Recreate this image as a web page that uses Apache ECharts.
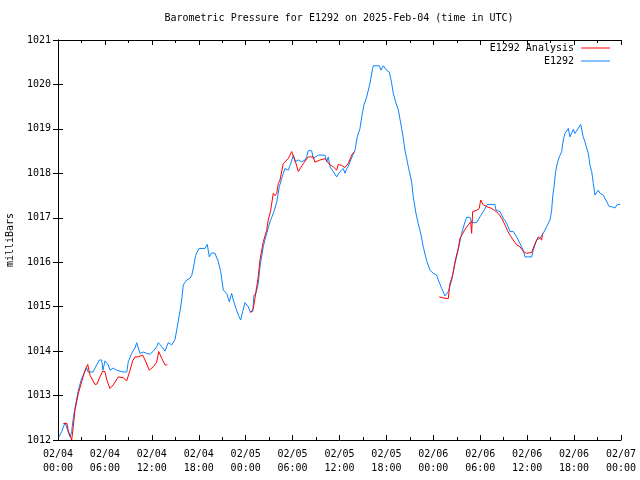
<!DOCTYPE html>
<html>
<head>
<meta charset="utf-8">
<script src="https://cdn.jsdelivr.net/npm/echarts@6/dist/echarts.min.js"></script>
<style>html,body{margin:0;padding:0;background:#fff}#c{width:640px;height:480px}</style>
</head>
<body>
<div id="c"></div>
<script>
// hours since 2025-02-04 00:00 UTC
const xTickHours = [0, 6, 12, 18, 24, 30, 36, 42, 48, 54, 60, 66, 72];
const yTicks = [1012, 1013, 1014, 1015, 1016, 1017, 1018, 1019, 1020, 1021];

const blueHours = [0.13,0.47,0.90,1.15,1.53,1.75,1.92,2.05,2.60,3.03,3.45,3.67,3.84,4.48,4.95,5.28,5.59,5.75,6.01,6.43,6.65,7.07,7.51,7.93,8.31,8.79,8.99,9.42,9.85,10.06,10.27,10.49,10.91,11.34,11.76,12.19,12.62,12.83,13.26,13.68,14.10,14.54,14.96,15.18,15.60,15.82,16.02,16.46,16.88,17.10,17.30,17.61,18.03,18.80,19.09,19.35,19.65,20.08,20.50,20.81,21.14,21.36,21.57,21.91,22.21,22.42,22.76,23.06,23.36,23.62,23.91,24.34,24.55,24.90,25.06,25.32,25.61,25.83,26.25,26.69,27.11,27.62,27.97,28.30,28.81,29.03,29.45,29.76,30.09,30.31,30.73,31.16,31.59,31.80,32.01,32.44,32.65,32.95,33.29,34.14,34.36,34.57,34.78,35.20,35.64,36.06,36.48,36.70,36.92,37.12,37.34,37.56,37.76,37.98,38.27,38.62,38.84,39.13,39.48,39.90,40.24,40.32,41.09,41.30,41.60,41.82,42.03,42.37,42.67,42.88,43.22,43.52,43.95,44.16,44.37,44.80,45.23,45.43,45.78,46.07,46.38,46.71,47.15,47.57,47.99,48.43,48.63,49.07,49.49,49.91,50.35,50.77,51.19,51.62,52.05,52.26,52.69,52.90,53.54,53.96,54.39,54.90,55.88,56.01,56.52,56.94,57.38,57.80,58.22,58.66,59.08,59.50,59.72,60.58,60.78,61.21,61.64,62.06,62.49,62.92,63.13,63.26,63.43,63.64,63.85,64.11,64.41,64.62,64.83,65.26,65.47,65.90,66.11,66.53,66.84,67.01,67.17,67.39,67.61,67.81,68.03,68.25,68.46,68.67,68.89,69.09,69.31,69.53,69.74,69.95,70.20,70.50,70.81,71.01,71.23,71.52,71.87];
const bluePressure = [1012.07,1012.19,1012.39,1012.39,1012.07,1012.19,1012.45,1012.6,1013.12,1013.39,1013.54,1013.62,1013.53,1013.53,1013.69,1013.8,1013.8,1013.57,1013.78,1013.69,1013.57,1013.62,1013.57,1013.55,1013.53,1013.53,1013.76,1013.95,1014.07,1014.19,1014.17,1013.95,1013.98,1013.95,1013.93,1014.0,1014.1,1014.19,1014.1,1014.0,1014.19,1014.14,1014.26,1014.47,1014.9,1015.15,1015.49,1015.6,1015.64,1015.7,1015.86,1016.16,1016.31,1016.31,1016.4,1016.12,1016.21,1016.2,1016.01,1015.79,1015.37,1015.4,1015.3,1015.11,1015.3,1015.15,1014.96,1014.81,1014.7,1014.89,1015.09,1015.0,1014.89,1014.89,1015.26,1015.3,1015.52,1015.9,1016.35,1016.65,1016.91,1017.14,1017.35,1017.7,1018.0,1018.11,1018.07,1018.22,1018.41,1018.26,1018.3,1018.26,1018.3,1018.37,1018.51,1018.51,1018.33,1018.37,1018.41,1018.41,1018.26,1018.37,1018.15,1018.04,1017.92,1018.04,1018.11,1018.0,1018.1,1018.15,1018.26,1018.3,1018.43,1018.52,1018.82,1019.01,1019.27,1019.54,1019.72,1020.03,1020.36,1020.42,1020.42,1020.32,1020.42,1020.38,1020.32,1020.28,1020.03,1019.8,1019.58,1019.43,1019.01,1018.79,1018.52,1018.15,1017.8,1017.47,1017.1,1016.87,1016.65,1016.35,1016.03,1015.82,1015.75,1015.71,1015.6,1015.41,1015.24,1015.34,1015.6,1015.97,1016.29,1016.65,1016.91,1017.01,1017.01,1016.89,1016.89,1017.02,1017.14,1017.3,1017.3,1017.17,1017.14,1016.99,1016.88,1016.69,1016.69,1016.57,1016.42,1016.27,1016.12,1016.12,1016.27,1016.5,1016.54,1016.65,1016.8,1016.95,1017.17,1017.47,1017.7,1018.04,1018.22,1018.37,1018.49,1018.75,1018.9,1019.01,1018.82,1018.99,1018.9,1019.01,1019.1,1019.08,1018.82,1018.71,1018.67,1018.45,1018.19,1018.04,1017.77,1017.51,1017.55,1017.62,1017.55,1017.58,1017.51,1017.44,1017.4,1017.25,1017.25,1017.29,1017.22,1017.3,1017.3];

// analysis series; null marks a gap in the record
const redHours = [0.68,1.15,1.32,1.62,1.75,1.96,2.17,2.60,3.03,3.45,3.80,4.09,4.73,4.99,5.37,5.72,6.01,6.23,6.65,7.07,7.71,8.35,8.79,8.99,9.21,9.55,9.85,10.27,10.83,11.13,11.68,12.19,12.62,12.88,13.26,13.68,13.98,
  19.0,
  24.62,24.77,24.97,25.19,25.41,25.61,25.83,26.25,26.69,26.89,27.20,27.53,27.75,27.97,28.17,28.39,28.81,29.45,29.88,30.31,30.73,30.95,31.37,32.01,32.65,32.86,33.50,34.14,34.78,35.20,35.64,35.85,36.28,36.70,37.12,37.56,37.89,
  43.0,
  48.76,49.49,49.91,50.13,50.47,50.77,51.19,51.41,51.62,52.05,52.47,52.78,52.90,53.03,53.54,53.87,54.05,54.39,54.82,55.46,55.88,56.30,56.74,57.16,57.46,57.80,58.22,58.66,59.08,59.50,59.94,60.58,61.00,61.42,61.64,61.85,61.98];
const redPressure = [1012.37,1012.37,1012.2,1012.07,1012.0,1012.3,1012.67,1013.05,1013.31,1013.57,1013.7,1013.46,1013.25,1013.26,1013.42,1013.55,1013.54,1013.36,1013.16,1013.24,1013.42,1013.4,1013.33,1013.34,1013.57,1013.78,1013.87,1013.87,1013.91,1013.8,1013.57,1013.65,1013.75,1013.99,1013.84,1013.69,1013.69,
  null,
  1014.86,1014.85,1014.95,1015.19,1015.45,1015.67,1016.05,1016.46,1016.72,1016.95,1017.17,1017.55,1017.5,1017.55,1017.77,1017.85,1018.22,1018.33,1018.49,1018.3,1018.04,1018.04,1018.22,1018.37,1018.37,1018.25,1018.3,1018.33,1018.19,1018.15,1018.07,1018.2,1018.18,1018.13,1018.22,1018.41,1018.49,
  null,
  1015.22,1015.19,1015.18,1015.52,1015.71,1016.01,1016.31,1016.54,1016.6,1016.74,1016.84,1016.91,1016.65,1017.14,1017.17,1017.21,1017.4,1017.29,1017.25,1017.21,1017.16,1017.1,1016.99,1016.84,1016.72,1016.61,1016.5,1016.39,1016.35,1016.24,1016.2,1016.22,1016.42,1016.57,1016.61,1016.5,1016.65];

const FONT = 'DejaVu Sans Mono';
const chart = echarts.init(document.getElementById('c'), null, {renderer: 'canvas'});
const fmtX = v => {
  const day = 4 + Math.floor(v / 24);
  const hr = v % 24;
  return '02/0' + day + '\n' + String(hr).padStart(2, '0') + ':00';
};
const axisLine = {show: true, lineStyle: {color: '#000', width: 1}};
const xCommon = {
  type: 'value', min: xTickHours[0], max: xTickHours[xTickHours.length - 1],
  interval: xTickHours[1] - xTickHours[0],
  axisLine: axisLine,
  axisTick: {show: true, inside: true, length: 5, lineStyle: {color: '#000'}},
  minorTick: {show: true, splitNumber: 2, length: 3, lineStyle: {color: '#000'}},
  splitLine: {show: false}
};
const yCommon = {
  type: 'value', min: yTicks[0], max: yTicks[yTicks.length - 1], interval: 1,
  axisLine: axisLine,
  axisTick: {show: true, inside: true, length: 5, lineStyle: {color: '#000'}},
  splitLine: {show: false}
};
const legendCommon = {
  orient: 'vertical', right: 30, padding: 0, align: 'right',
  icon: 'rect', itemWidth: 29, itemHeight: 1,
  textStyle: {fontFamily: FONT, fontSize: 10, color: '#000', padding: [0, 2, 0, 0]}
};
chart.setOption({
  animation: false,
  backgroundColor: '#fff',
  title: {
    text: 'Barometric Pressure for E1292 on 2025-Feb-04 (time in UTC)',
    left: 339, top: 13, textAlign: 'center', padding: 0,
    textStyle: {fontFamily: FONT, fontSize: 10, fontWeight: 'normal', color: '#000'}
  },
  grid: {left: 58, right: 19, top: 40, bottom: 40, containLabel: false, outerBoundsMode: 'none'},
  legend: [
    Object.assign({data: ['E1292 Analysis'], top: 43}, legendCommon),
    Object.assign({data: ['E1292'], top: 56}, legendCommon)
  ],
  xAxis: [
    Object.assign({}, xCommon, {position: 'bottom',
      axisLabel: {show: true, margin: 7, formatter: fmtX, fontFamily: FONT, fontSize: 10, color: '#000', lineHeight: 14}}),
    Object.assign({}, xCommon, {position: 'top', axisLabel: {show: false}})
  ],
  yAxis: [
    Object.assign({}, yCommon, {position: 'left',
      name: 'milliBars', nameLocation: 'middle', nameRotate: 90, nameGap: 43,
      nameTextStyle: {fontFamily: FONT, fontSize: 10, color: '#000'},
      axisLabel: {show: true, margin: 7, formatter: v => String(v), fontFamily: FONT, fontSize: 10, color: '#000'}}),
    Object.assign({}, yCommon, {position: 'right', axisLabel: {show: false}})
  ],
  series: [
    {name: 'E1292', type: 'line', symbol: 'none', z: 2,
     data: blueHours.map((h, i) => [h, bluePressure[i]]),
     lineStyle: {color: '#0a84ff', width: 1}, itemStyle: {color: '#0a84ff'}},
    {name: 'E1292 Analysis', type: 'line', symbol: 'none', z: 3, connectNulls: false,
     data: redHours.map((h, i) => [h, redPressure[i]]),
     lineStyle: {color: '#ff0000', width: 1}, itemStyle: {color: '#ff0000'}}
  ]
});
</script>
</body>
</html>
